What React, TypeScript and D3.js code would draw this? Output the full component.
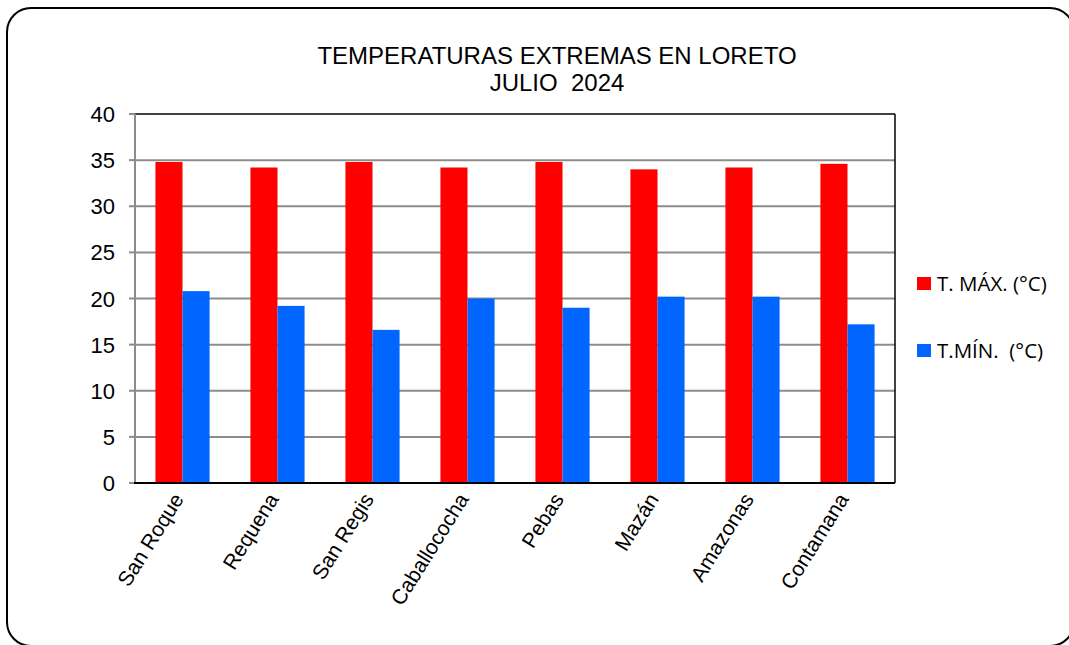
import React from 'react';
import * as d3 from 'd3';

const stations = ['San Roque', 'Requena', 'San Regis', 'Caballococha', 'Pebas', 'Mazán', 'Amazonas', 'Contamana'];
const tMax = [34.8, 34.2, 34.8, 34.2, 34.8, 34.0, 34.2, 34.6];
const tMin = [20.8, 19.2, 16.6, 20.0, 19.0, 20.2, 20.2, 17.2];
const seriesNames = ['T. MÁX. (°C)', 'T.MÍN.  (°C)'];
const seriesColors = ['#ff0000', '#0066ff'];
const yTicks = [0, 5, 10, 15, 20, 25, 30, 35, 40];

const W = 1069;
const H = 645;
const plot = { left: 135, right: 895, top: 114, bottom: 483 };

const App = () => {
  const x = d3.scaleBand().domain(stations).range([plot.left, plot.right]).paddingInner(0.43).paddingOuter(0.215);
  const sub = d3.scaleBand().domain(['max', 'min']).range([0, x.bandwidth()]);
  const y = d3.scaleLinear().domain([0, 40]).range([plot.bottom, plot.top]);
  const font = '"Liberation Sans", Arial, sans-serif';

  return (
    <svg width={W} height={H} style={{ position: 'absolute', left: 0, top: 0, background: '#fff' }}>
      <rect x={7} y={8} width={1067} height={638} rx={24} ry={24} fill="#fff" stroke="#000" strokeWidth={2} />

      <text x={557} y={64} textAnchor="middle" fontFamily={font} fontSize={24}>TEMPERATURAS EXTREMAS EN LORETO</text>
      <text x={557} y={91} textAnchor="middle" fontFamily={font} fontSize={24} style={{ whiteSpace: 'pre' }}>JULIO  2024</text>

      {/* grid */}
      {yTicks.map(t => (
        <g key={t}>
          {t > 0 && t < 40 && <line x1={plot.left} x2={plot.right} y1={y(t)} y2={y(t)} stroke="#8c8c8c" strokeWidth={2} />}
          <line x1={plot.left - 6} x2={plot.left} y1={y(t)} y2={y(t)} stroke="#8c8c8c" strokeWidth={2} />
          <text x={115} y={y(t) + 8} textAnchor="end" fontFamily={font} fontSize={22}>{t}</text>
        </g>
      ))}
      <line x1={plot.left} x2={plot.right} y1={plot.top} y2={plot.top} stroke="#000" strokeWidth={1.5} />
      <line x1={plot.left} x2={plot.left} y1={plot.top} y2={plot.bottom} stroke="#8c8c8c" strokeWidth={2} />
      <line x1={plot.right} x2={plot.right} y1={plot.top} y2={plot.bottom} stroke="#000" strokeWidth={1.5} />

      {/* bars */}
      {stations.map((s, i) => (
        <g key={s}>
          <rect x={x(s)! + sub('max')!} y={y(tMax[i])} width={sub.bandwidth()} height={y(0) - y(tMax[i])} fill={seriesColors[0]} />
          <rect x={x(s)! + sub('min')!} y={y(tMin[i])} width={sub.bandwidth()} height={y(0) - y(tMin[i])} fill={seriesColors[1]} />
        </g>
      ))}
      <line x1={plot.left - 1} x2={plot.right} y1={plot.bottom} y2={plot.bottom} stroke="#000" strokeWidth={2} />

      {/* x labels */}
      {stations.map(s => {
        const cx = x(s)! + x.bandwidth() / 2 + 2;
        return (
          <text key={s} transform={`translate(${cx},${plot.bottom + 16}) rotate(-58)`} textAnchor="end" fontFamily={font} fontSize={21}>{s}</text>
        );
      })}

      {/* legend */}
      {seriesNames.map((n, i) => (
        <g key={n} transform={`translate(917,${277 + i * 67})`}>
          <rect x={0} y={0} width={14} height={13} fill={seriesColors[i]} />
          <text x={20} y={14} fontFamily='"Open Sans", sans-serif' fontSize={20.5} style={{ whiteSpace: 'pre' }}>{n}</text>
        </g>
      ))}
    </svg>
  );
};

export default App;
